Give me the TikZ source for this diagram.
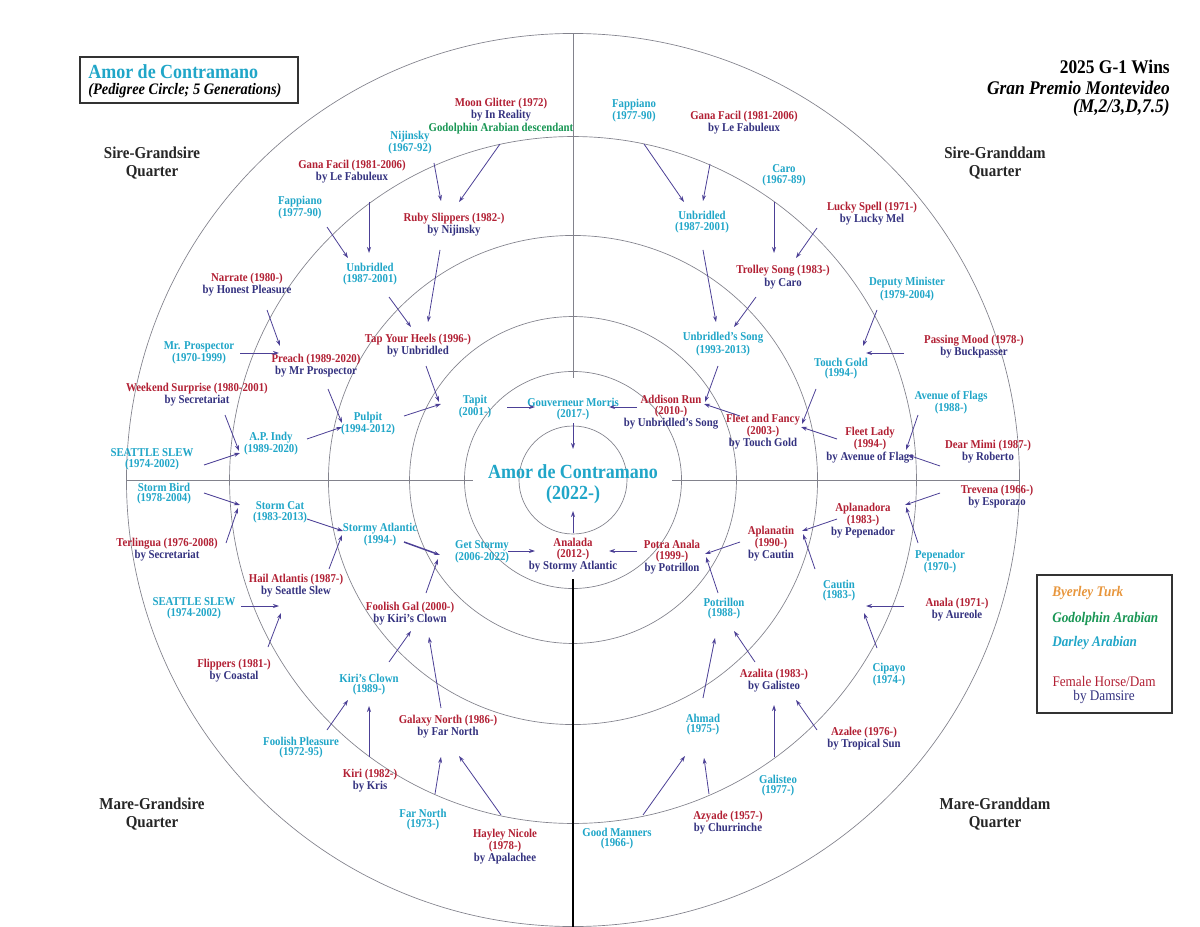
\documentclass[tikz,border=0pt]{standalone}
\usepackage{fontspec}
\setmainfont{Liberation Serif}[FakeStretch=0.9]
\usetikzlibrary{arrows.meta}
\definecolor{cyanT}{RGB}{32,166,200}
\definecolor{redT}{RGB}{178,32,52}
\definecolor{blueT}{RGB}{52,50,128}
\definecolor{greenT}{RGB}{24,150,84}
\definecolor{orangeT}{RGB}{232,150,60}
\definecolor{arrC}{RGB}{76,64,150}
\definecolor{ringC}{RGB}{130,130,140}
\newcommand\conn[4]{\draw[arw] ([shift={(#2)}]#1.center) -- ([shift={(#4)}]#3.center);}
\newcommand\hr[1]{\textcolor{redT}{#1}}
\newcommand\hb[1]{\textcolor{blueT}{#1}}
\begin{document}
\begin{tikzpicture}[x=0.75pt,y=-0.75pt,
 hn/.style={align=center, inner sep=0pt, font=\fontsize{9}{8}\selectfont\bfseries},
 cy/.style={hn, text=cyanT},
 arw/.style={draw=arrC, line width=0.6pt, -{Stealth[length=4.5pt,width=3pt]}},
 ring/.style={draw=ringC, line width=0.5pt},
 quart/.style={align=center, inner sep=0pt, font=\fontsize{12.5}{13.5}\selectfont\bfseries, text=black!85},
 legt/.style={anchor=west, inner sep=0pt, font=\fontsize{11}{11}\selectfont\bfseries\itshape}]
\fill[white] (0,0) rectangle (1200,927);
\useasboundingbox (0,0) rectangle (1200,927);
% rings and axes
\foreach \r in {40.5,81.4,122.6,183.4,257.6,334.9} \draw[ring] (573,480) circle[radius=\r pt];
\draw[ring] (126.5,480) -- (473,480);
\draw[ring] (672,480) -- (1019.5,480);
\draw[ring] (573,33.5) -- (573,378);
\draw[black, line width=1.5pt] (573,579) -- (573,926.5);
% title box
\draw[line width=1pt, black!80] (80,57) rectangle (298,103);
\node[anchor=west, inner sep=0pt, text=cyanT, font=\fontsize{15}{15}\selectfont\bfseries] (ttl) at (88,72) {Amor de Contramano};
\node[anchor=west, inner sep=0pt, font=\fontsize{12}{12}\selectfont\bfseries\itshape] (sub) at (88,91) {(Pedigree Circle; 5 Generations)};
% top right
\node[anchor=east, inner sep=0pt, font=\fontsize{14.5}{14.5}\selectfont\bfseries] (win) at (1170,67) {2025 G-1 Wins};
\node[anchor=east, inner sep=0pt, font=\fontsize{14.5}{14.5}\selectfont\bfseries\itshape] (race) at (1170,87.5) {Gran Premio Montevideo};
\node[anchor=east, inner sep=0pt, font=\fontsize{14.5}{14.5}\selectfont\bfseries\itshape] (cond) at (1170,108) {(M,2/3,D,7.5)};
% quarter labels
\node[quart] (q1) at (152,163) {Sire-Grandsire\\Quarter};
\node[quart] (q2) at (995,163) {Sire-Granddam\\Quarter};
\node[quart] (q3) at (152,814.5) {Mare-Grandsire\\Quarter};
\node[quart] (q4) at (995,814.5) {Mare-Granddam\\Quarter};
% legend
\draw[line width=1pt, black!80] (1037,575) rectangle (1172,713);
\node[legt, text=orangeT] (l1) at (1052,593) {Byerley Turk};
\node[legt, text=greenT] (l2) at (1052,619) {Godolphin Arabian};
\node[legt, text=cyanT] (l3) at (1052,643) {Darley Arabian};
\node[align=center, inner sep=0pt, font=\fontsize{11}{10.5}\selectfont] (l4) at (1104,690) {\hr{Female Horse/Dam}\\\hb{by Damsire}};
% center
\node[cy, font=\fontsize{15}{15.75}\selectfont\bfseries] (amor) at (573,484.5) {Amor de Contramano\\(2022-)};
% top-left
\node[hn] (mg) at (501,116) {\hr{Moon Glitter (1972)}\\\hb{by In Reality}\\\textcolor{greenT}{Godolphin Arabian descendant}};
\node[cy] (nij) at (410,142.5) {Nijinsky\\(1967-92)};
\node[hn] (gfl) at (352,171.5) {\hr{Gana Facil (1981-2006)}\\\hb{by Le Fabuleux}};
\node[cy] (fapl) at (300,208) {Fappiano\\(1977-90)};
\node[hn] (ruby) at (454,225) {\hr{Ruby Slippers (1982-)}\\\hb{by Nijinsky}};
\node[cy] (unbl) at (370,274) {Unbridled\\(1987-2001)};
\node[hn] (tyh) at (418,345.5) {\hr{Tap Your Heels (1996-)}\\\hb{by Unbridled}};
\node[hn] (narr) at (247,284.5) {\hr{Narrate (1980-)}\\\hb{by Honest Pleasure}};
\node[cy] (mrp) at (199,352.5) {Mr. Prospector\\(1970-1999)};
\node[hn] (preach) at (316,365.5) {\hr{Preach (1989-2020)}\\\hb{by Mr Prospector}};
\node[hn] (ws) at (197,394.5) {\hr{Weekend Surprise (1980-2001)}\\\hb{by Secretariat}};
\node[cy] (pulpit) at (368,424) {Pulpit\\(1994-2012)};
\node[cy] (tapit) at (475,406.5) {Tapit\\(2001-)};
\node[cy] (api) at (271,443.5) {A.P. Indy\\(1989-2020)};
\node[cy] (ssa) at (152,459.5) {SEATTLE SLEW\\(1974-2002)};
\node[cy] (gm) at (573,409) {Gouverneur Morris\\(2017-)};
% top-right
\node[cy] (fapr) at (634,110.5) {Fappiano\\(1977-90)};
\node[hn] (gfr) at (744,122.5) {\hr{Gana Facil (1981-2006)}\\\hb{by Le Fabuleux}};
\node[cy] (caro) at (784,175.5) {Caro\\(1967-89)};
\node[cy] (unbr) at (702,222) {Unbridled\\(1987-2001)};
\node[hn] (ls) at (872,213.5) {\hr{Lucky Spell (1971-)}\\\hb{by Lucky Mel}};
\node[hn] (ts) at (783,277) {\hr{Trolley Song (1983-)}\\\hb{by Caro}};
\node[cy] (dm) at (907,289) {Deputy Minister\\(1979-2004)};
\node[cy] (us) at (723,344) {Unbridled's Song\\(1993-2013)};
\node[hn] (pm) at (974,346.5) {\hr{Passing Mood (1978-)}\\\hb{by Buckpasser}};
\node[cy] (tg) at (841,368.5) {Touch Gold\\(1994-)};
\node[hn] (ar) at (671,412) {\hr{Addison Run}\\\hr{(2010-)}\\\hb{by Unbridled's Song}};
\node[hn] (ff) at (763,431.5) {\hr{Fleet and Fancy}\\\hr{(2003-)}\\\hb{by Touch Gold}};
\node[cy] (aof) at (951,402.5) {Avenue of Flags\\(1988-)};
\node[hn] (fl) at (870,445) {\hr{Fleet Lady}\\\hr{(1994-)}\\\hb{by Avenue of Flags}};
\node[hn] (dmi) at (988,452) {\hr{Dear Mimi (1987-)}\\\hb{by Roberto}};
% bottom-left
\node[cy] (sb) at (164,493.5) {Storm Bird\\(1978-2004)};
\node[hn] (terl) at (167,549.5) {\hr{Terlingua (1976-2008)}\\\hb{by Secretariat}};
\node[cy] (sc) at (280,512.5) {Storm Cat\\(1983-2013)};
\node[cy] (sa) at (380,534.5) {Stormy Atlantic\\(1994-)};
\node[cy] (gs) at (482,552) {Get Stormy\\(2006-2022)};
\node[hn] (ana) at (573,555) {\hr{Analada}\\\hr{(2012-)}\\\hb{by Stormy Atlantic}};
\node[hn] (ha) at (296,586) {\hr{Hail Atlantis (1987-)}\\\hb{by Seattle Slew}};
\node[cy] (ssb) at (194,608.5) {SEATTLE SLEW\\(1974-2002)};
\node[hn] (flip) at (234,671) {\hr{Flippers (1981-)}\\\hb{by Coastal}};
\node[hn] (fg) at (410,614) {\hr{Foolish Gal (2000-)}\\\hb{by Kiri's Clown}};
\node[cy] (kc) at (369,684.5) {Kiri's Clown\\(1989-)};
\node[hn] (gn) at (448,727) {\hr{Galaxy North (1986-)}\\\hb{by Far North}};
\node[cy] (fp) at (301,747.5) {Foolish Pleasure\\(1972-95)};
\node[hn] (kiri) at (370,780.5) {\hr{Kiri (1982-)}\\\hb{by Kris}};
\node[cy] (fn) at (423,819.5) {Far North\\(1973-)};
\node[hn] (hn) at (505,846.5) {\hr{Hayley Nicole}\\\hr{(1978-)}\\\hb{by Apalachee}};
% bottom-right
\node[hn] (pa) at (672,557) {\hr{Potra Anala}\\\hr{(1999-)}\\\hb{by Potrillon}};
\node[hn] (trev) at (997,496.5) {\hr{Trevena (1966-)}\\\hb{by Esporazo}};
\node[hn] (apd) at (863,520.5) {\hr{Aplanadora}\\\hr{(1983-)}\\\hb{by Pepenador}};
\node[hn] (apt) at (771,543.5) {\hr{Aplanatin}\\\hr{(1990-)}\\\hb{by Cautin}};
\node[cy] (pep) at (940,561.5) {Pepenador\\(1970-)};
\node[cy] (cau) at (839,590.5) {Cautin\\(1983-)};
\node[hn] (anala) at (957,609.5) {\hr{Anala (1971-)}\\\hb{by Aureole}};
\node[cy] (pot) at (724,608.5) {Potrillon\\(1988-)};
\node[cy] (cip) at (889,674.5) {Cipayo\\(1974-)};
\node[hn] (aza) at (774,680.5) {\hr{Azalita (1983-)}\\\hb{by Galisteo}};
\node[cy] (ahm) at (703,724.5) {Ahmad\\(1975-)};
\node[hn] (azalee) at (864,738.5) {\hr{Azalee (1976-)}\\\hb{by Tropical Sun}};
\node[cy] (gal) at (778,785.5) {Galisteo\\(1977-)};
\node[cy] (gman) at (617,838.5) {Good Manners\\(1966-)};
\node[hn] (azy) at (728,822.5) {\hr{Azyade (1957-)}\\\hb{by Churrinche}};
% connectors
\conn{nij}{24,20.5}{ruby}{-13,-24}
\conn{mg}{-1,28}{ruby}{5,-23}
\conn{gfl}{17,30.5}{unbl}{-1,-21}
\conn{fapl}{27,19}{unbl}{-22,-16}
\conn{ruby}{-14,25}{tyh}{10,-23.5}
\conn{unbl}{19,23}{tyh}{-7,-18.5}
\conn{narr}{20,25.5}{preach}{-36,-19.5}
\conn{mrp}{41,0.5}{preach}{-37,-12.5}
\conn{ws}{28,20.5}{api}{-32,7.5}
\conn{preach}{12,23.5}{pulpit}{-26,-1}
\conn{tyh}{8,20.5}{tapit}{-36,-4.5}
\conn{pulpit}{36,-8}{tapit}{-34,-2.5}
\conn{api}{36,-4.5}{pulpit}{-26,3}
\conn{ssa}{52,5.5}{api}{-31,9.5}
\conn{tapit}{32,0.5}{gm}{-38,-2}
\conn{ar}{-34,-5}{gm}{36,-2}
\conn{gm}{0,14}{amor}{0,-35.5}
\conn{ana}{0,-22}{amor}{0,26.5}
\conn{gs}{26,-1}{ana}{-38,-4}
\conn{pa}{-35,-6}{ana}{36,-4}
\draw[arw, line width=1.1pt] ([shift={(24,7.5)}]sa.center) -- ([shift={(-42,3)}]gs.center);
\conn{fg}{16,-21}{gs}{-44,7}
\conn{gn}{-7,-19}{fg}{19,23}
\conn{kc}{20,-22.5}{fg}{1,17}
\conn{pot}{-6,-15.5}{pa}{34,0}
\conn{ahm}{0,-26.5}{pot}{-9,29.5}
\conn{aza}{-19,-18.5}{pot}{10,22.5}
\conn{sb}{40,-0.5}{sc}{-40,-7.5}
\conn{terl}{59,-6.5}{sc}{-42,-4.5}
\conn{sc}{27,6.5}{sa}{-37,-3.5}
\conn{ha}{33,-17}{sa}{-38,0.5}
\conn{ssb}{47,-2.5}{ha}{-17,20}
\conn{flip}{34,-24}{ha}{-15,27}
\conn{fp}{26,-17.5}{kc}{-21,15.5}
\conn{kiri}{-1,-23.5}{kc}{0,21.5}
\conn{fn}{12,-25.5}{gn}{-7,30}
\conn{hn}{-4,-31.5}{gn}{11,29}
\conn{gman}{26,-23.5}{ahm}{-18,31.5}
\conn{azy}{-19,-28.5}{ahm}{1,33.5}
\conn{gal}{-4,-28.5}{aza}{0,24.5}
\conn{azalee}{-47,-8.5}{aza}{22,19.5}
\conn{trev}{-57,-3.5}{apd}{42,-15.5}
\conn{pep}{-22,-18.5}{apd}{43,-13.5}
\conn{apd}{-26,-1.5}{apt}{31,-12.5}
\conn{cau}{-24,-21.5}{apt}{32,-9.5}
\conn{apt}{-31,-1.5}{pa}{33,-3}
\conn{anala}{-53,-3.5}{cau}{27,15.5}
\conn{cip}{-12,-26.5}{cau}{25,22.5}
\conn{fapr}{10,33.5}{unbr}{-18,-20}
\conn{gfr}{-34,41.5}{unbr}{1,-21}
\conn{unbr}{1,28}{us}{-7,-22}
\conn{ts}{-27,20}{us}{11,-17}
\conn{caro}{-10,26.5}{ts}{-9,-24}
\conn{ls}{-55,14.5}{ts}{13,-19}
\conn{dm}{-30,21}{tg}{22,-22.5}
\conn{pm}{-70,6.5}{tg}{25,-15.5}
\conn{us}{-5,22}{ar}{34,-10}
\conn{ff}{-23,-15.5}{ar}{33,-8}
\conn{tg}{-25,20.5}{ff}{39,-7.5}
\conn{fl}{-33,-6}{ff}{38,-4.5}
\conn{aof}{-33,12.5}{fl}{36,5}
\conn{dmi}{-48,14}{fl}{38,10}
\end{tikzpicture}
\end{document}
